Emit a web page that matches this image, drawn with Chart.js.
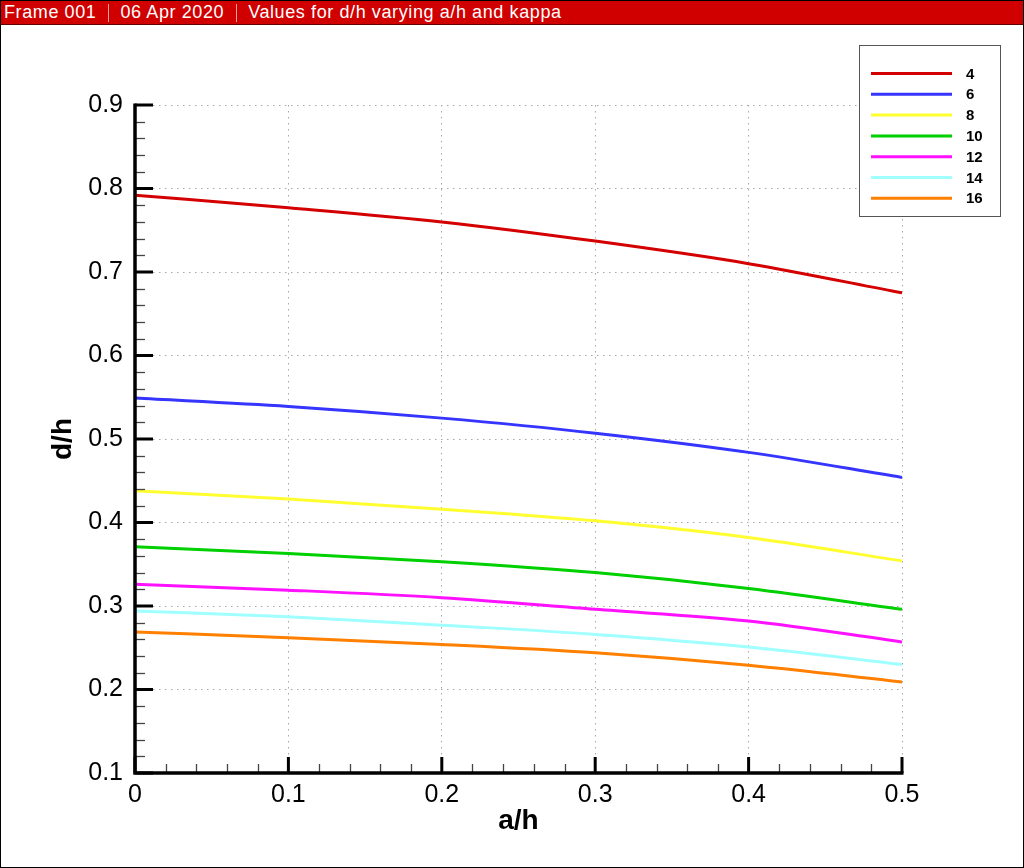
<!DOCTYPE html>
<html>
<head>
<meta charset="utf-8">
<script src="https://cdn.jsdelivr.net/npm/chart.js@4.4.1/dist/chart.umd.min.js"></script>
<style>
html,body{margin:0;padding:0;background:#fff;}
#wrap{position:relative;width:1024px;height:868px;box-sizing:border-box;border:1px solid #000;overflow:hidden;}
#bar{position:absolute;left:0;top:0;width:1024px;height:23px;background:#d00000;color:#fff;font-family:"Liberation Sans",Arial,sans-serif;font-size:18px;letter-spacing:0.6px;line-height:23px;white-space:nowrap;border-bottom:1px solid #600;}
#bar span{display:inline-block;padding:0 12px 0 3px;}
#bar span.sep{border-left:1px solid #f0a0a0;height:18px;line-height:18px;vertical-align:middle;padding:0;margin:0 8px 0 0;}
#c{position:absolute;left:0;top:0;}
</style>
</head>
<body>
<div id="wrap">
<canvas id="c" width="1024" height="868"></canvas>
<div id="bar"><span>Frame 001</span><span class="sep"></span><span>06 Apr 2020</span><span class="sep"></span><span>Values for d/h varying a/h and kappa</span></div>
</div>
<script>
const xValues = [0, 0.1, 0.2, 0.3, 0.4, 0.5];
const kappaLabels = ['4', '6', '8', '10', '12', '14', '16'];
const k4  = [0.792, 0.777, 0.760, 0.737, 0.710, 0.675];
const k6  = [0.549, 0.539, 0.525, 0.507, 0.484, 0.454];
const k8  = [0.438, 0.428, 0.416, 0.402, 0.382, 0.354];
const k10 = [0.371, 0.363, 0.353, 0.340, 0.321, 0.296];
const k12 = [0.326, 0.319, 0.310, 0.296, 0.282, 0.257];
const k14 = [0.294, 0.287, 0.277, 0.266, 0.251, 0.230];
const k16 = [0.269, 0.262, 0.254, 0.244, 0.229, 0.209];
const seriesValues = [k4, k6, k8, k10, k12, k14, k16];
const colors = ['#d40000', '#3535ff', '#ffff30', '#00d000', '#ff10ff', '#a0ffff', '#ff8000'];
const xTicks = [0, 0.1, 0.2, 0.3, 0.4, 0.5];
const yTicks = [0.1, 0.2, 0.3, 0.4, 0.5, 0.6, 0.7, 0.8, 0.9];

const FONT = '"Liberation Sans", Arial, sans-serif';

const datasets = seriesValues.map((vals, i) => ({
  label: kappaLabels[i],
  data: vals.map((v, j) => ({x: xValues[j], y: v})),
  borderColor: colors[i],
  backgroundColor: colors[i],
  borderWidth: 3,
  pointRadius: 0,
  cubicInterpolationMode: 'monotone',
  fill: false
}));

const innerTicks = {
  id: 'innerTicks',
  afterDraw(chart) {
    const ctx = chart.ctx;
    const xs = chart.scales.x, ys = chart.scales.y;
    const left = chart.chartArea.left, bottom = chart.chartArea.bottom;
    ctx.save();
    ctx.lineWidth = 1.3;
    ctx.strokeStyle = '#444';
    for (let i = 0; i < xTicks.length - 1; i++) {
      for (let m = 1; m < 5; m++) {
        const v = xTicks[i] + (xTicks[i+1] - xTicks[i]) * m / 5;
        const px = Math.round(xs.getPixelForValue(v)) + 0.5;
        ctx.beginPath(); ctx.moveTo(px, bottom); ctx.lineTo(px, bottom - 9); ctx.stroke();
      }
    }
    for (let i = 0; i < yTicks.length - 1; i++) {
      for (let m = 1; m < 5; m++) {
        const v = yTicks[i] + (yTicks[i+1] - yTicks[i]) * m / 5;
        const py = Math.round(ys.getPixelForValue(v)) + 0.5;
        ctx.beginPath(); ctx.moveTo(left, py); ctx.lineTo(left + 10, py); ctx.stroke();
      }
    }
    ctx.lineWidth = 3;
    ctx.strokeStyle = '#000';
    xTicks.forEach(v => {
      const px = xs.getPixelForValue(v);
      ctx.beginPath(); ctx.moveTo(px, bottom); ctx.lineTo(px, bottom - 16); ctx.stroke();
    });
    yTicks.forEach(v => {
      const py = ys.getPixelForValue(v);
      ctx.beginPath(); ctx.moveTo(left, py); ctx.lineTo(left + 18, py); ctx.stroke();
    });
    ctx.lineWidth = 3.5;
    ctx.beginPath();
    ctx.moveTo(left, ys.getPixelForValue(0.9) - 1.5);
    ctx.lineTo(left, bottom);
    ctx.lineTo(xs.getPixelForValue(0.5) + 1.5, bottom);
    ctx.stroke();
    ctx.restore();
  }
};

const customLegend = {
  id: 'customLegend',
  afterDraw(chart) {
    const ctx = chart.ctx;
    ctx.save();
    const bx = 858.5, by = 44.5, bw = 141, bh = 171;
    ctx.fillStyle = '#fff';
    ctx.fillRect(bx, by, bw, bh);
    ctx.strokeStyle = '#555';
    ctx.lineWidth = 1;
    ctx.strokeRect(bx, by, bw, bh);
    ctx.font = 'bold 15px ' + FONT;
    ctx.textBaseline = 'middle';
    ctx.textAlign = 'left';
    chart.data.datasets.forEach((ds, i) => {
      const y = 72.5 + i * 20.8;
      ctx.strokeStyle = ds.borderColor;
      ctx.lineWidth = 3;
      ctx.beginPath(); ctx.moveTo(870, y); ctx.lineTo(951, y); ctx.stroke();
      ctx.fillStyle = '#000';
      ctx.fillText(ds.label, 965, y + 1);
    });
    ctx.restore();
  }
};

new Chart(document.getElementById('c'), {
  type: 'line',
  data: { datasets },
  options: {
    responsive: false,
    animation: false,
    devicePixelRatio: 1,
    layout: { padding: { left: 45, right: 123, top: 104, bottom: 31 } },
    plugins: { legend: { display: false }, tooltip: { enabled: false } },
    scales: {
      x: {
        type: 'linear',
        min: 0, max: 0.5,
        afterBuildTicks: s => { s.ticks = xTicks.map(v => ({value: v})); },
        afterFit: s => { s.height = 65; },
        grid: { color: '#a8a8a8', lineWidth: 1, drawTicks: false },
        border: { display: false, dash: [1.5, 4.5] },
        ticks: {
          padding: 7,
          color: '#000',
          font: { family: FONT, size: 25 },
          maxRotation: 0,
          callback: v => (v === 0 ? '0' : String(+v.toFixed(1)))
        },
        title: { display: true, text: 'a/h', color: '#000', font: { family: FONT, size: 28, weight: 'bold' }, padding: { top: 0, bottom: 0 } }
      },
      y: {
        type: 'linear',
        min: 0.1, max: 0.9,
        afterBuildTicks: s => { s.ticks = yTicks.map(v => ({value: v})); },
        afterFit: s => { s.width = 89; },
        grid: { color: '#a8a8a8', lineWidth: 1, drawTicks: false },
        border: { display: false, dash: [1.5, 4.5] },
        ticks: {
          padding: 12,
          color: '#000',
          font: { family: FONT, size: 25 },
          callback: v => String(+v.toFixed(1))
        },
        title: { display: true, text: 'd/h', color: '#000', font: { family: FONT, size: 28, weight: 'bold' }, padding: { top: 0, bottom: 0 } }
      }
    }
  },
  plugins: [innerTicks, customLegend]
});
</script>
</body>
</html>
